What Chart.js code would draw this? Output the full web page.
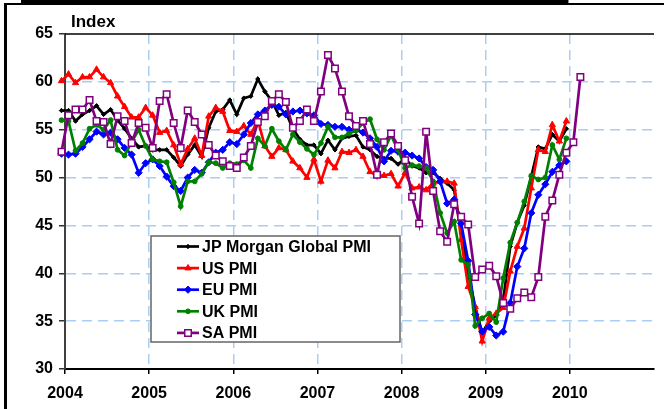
<!DOCTYPE html>
<html>
<head>
<meta charset="utf-8">
<script src="https://cdn.jsdelivr.net/npm/chart.js@4.4.1/dist/chart.umd.min.js"></script>
<style>
  html, body { margin: 0; padding: 0; background: #fff; overflow: hidden; }
  #wrap { position: relative; width: 664px; height: 409px; overflow: hidden; }
  #frame { position: absolute; left: 4px; top: 3px; width: 700px; height: 420px;
           border-left: 3px solid #000; border-top: 2px solid #000; }
  #title { position: absolute; left: 21px; top: -17px; white-space: nowrap; background: #fff;
           font: bold 18px "Liberation Sans", Arial, sans-serif; line-height: 20px; letter-spacing: 0.8px;
           text-decoration: underline; text-decoration-thickness: 3px; text-underline-offset: 1px;
           text-decoration-skip-ink: none; }
  canvas { position: absolute; left: 0; top: 0; }
</style>
</head>
<body>
<div id="wrap">
  <div id="frame"></div>
  <div id="title">Figure 1: Manufacturing PMIs &#8211; global and regional (index)</div>
  <canvas id="graf" width="664" height="409"></canvas>
</div>
<script>
// monthly readings, first value is Dec 2003
const jpMorgan = [57.0, 57.0, 55.9, 56.6, 57.0, 57.5, 56.6, 57.1, 56.0, 55.1, 54.1, 53.2, 53.3,
  52.9, 52.9, 52.9, 52.1, 51.2, 52.4, 53.4, 52.2, 55.2, 56.9, 57.1, 58.1,
  56.6, 58.3, 58.5, 60.3, 59.0, 58.0, 56.5, 56.8, 55.1, 54.0, 53.4, 53.4,
  52.5, 53.9, 52.9, 54.1, 54.3, 54.4, 53.2, 52.9, 52.2, 52.0, 52.0, 51.4,
  52.0, 51.2, 51.0, 50.5, 50.5, 49.9, 49.4, 48.7, 44.2, 40.0, 36.5, 33.8,
  35.0, 35.6, 37.2, 42.8, 45.3, 47.1, 50.1, 53.2, 53.0, 54.5, 53.8, 55.1]

const usPmi = [60.1, 60.8, 59.9, 60.5, 60.5, 61.3, 60.5, 59.9, 58.5, 57.4, 56.3, 56.3, 57.3,
  56.5, 54.7, 54.9, 53.4, 51.4, 53.0, 54.1, 52.3, 56.4, 57.3, 56.9, 54.9,
  54.8, 55.4, 54.5, 56.0, 53.3, 52.2, 53.1, 52.9, 51.7, 51.0, 50.0, 51.9,
  49.6, 51.8, 51.0, 52.7, 52.6, 52.9, 52.2, 50.6, 50.2, 50.2, 50.4, 49.1,
  50.5, 48.9, 49.0, 48.7, 49.4, 49.6, 49.6, 49.4, 43.5, 38.6, 36.5, 32.9,
  35.3, 35.8, 36.4, 40.2, 42.8, 44.7, 48.9, 52.9, 52.7, 55.5, 53.8, 55.9]

const euPmi = [52.5, 52.4, 52.5, 53.2, 54.0, 54.8, 54.5, 54.7, 54.0, 53.1, 52.4, 50.5, 51.5,
  51.9, 51.2, 50.1, 49.1, 48.6, 50.0, 50.8, 50.5, 51.6, 52.6, 52.9, 53.7,
  53.5, 54.5, 55.7, 56.6, 57.0, 57.6, 57.4, 56.6, 56.9, 57.0, 56.7, 56.5,
  55.6, 55.5, 55.3, 55.3, 55.0, 55.0, 54.7, 54.1, 53.2, 51.7, 52.8, 52.7,
  52.6, 52.3, 52.0, 51.1, 50.8, 49.6, 47.3, 47.7, 45.2, 41.3, 35.7, 33.9,
  34.4, 33.5, 33.9, 36.9, 40.7, 42.6, 46.3, 48.2, 49.3, 50.6, 51.3, 51.7]

const ukPmi = [56.0, 55.9, 52.8, 53.6, 55.1, 55.5, 55.0, 56.0, 52.9, 52.3, 53.7, 55.0, 53.3,
  51.9, 51.7, 51.6, 49.5, 47.0, 49.6, 49.6, 50.4, 51.6, 51.5, 51.0, 51.5,
  51.4, 51.8, 51.0, 54.1, 53.3, 55.1, 53.8, 52.9, 54.5, 53.7, 53.0, 52.4,
  53.6, 55.3, 54.2, 54.2, 54.6, 54.9, 55.7, 56.1, 54.0, 52.9, 54.4, 52.9,
  51.0, 51.3, 51.2, 51.0, 49.6, 46.3, 44.2, 45.4, 41.4, 40.9, 34.5, 35.3,
  35.8, 34.9, 39.5, 43.2, 45.3, 47.5, 50.2, 49.8, 50.0, 53.4, 51.9, 54.1]

// SA runs two months longer (to Feb 2010)
const saPmi = [52.7, 56.5, 57.1, 57.1, 58.1, 55.9, 55.8, 53.5, 56.4, 55.9, 53.6, 55.7, 55.2,
  53.1, 58.0, 58.7, 55.7, 53.1, 57.0, 55.8, 54.5, 53.4, 52.3, 51.7, 51.2,
  51.0, 52.1, 53.3, 55.8, 56.4, 58.0, 58.7, 57.9, 55.2, 55.9, 57.1, 55.9,
  59.0, 62.8, 61.4, 59.0, 56.4, 55.4, 55.9, 53.5, 50.3, 53.7, 54.6, 53.3,
  51.8, 48.0, 45.2, 54.8, 48.6, 44.4, 43.3, 47.2, 45.9, 45.1, 39.6, 40.4,
  40.8, 39.7, 36.9, 36.3, 37.4, 38.0, 37.5, 39.6, 45.9, 47.6, 50.3, 52.6, 53.7, 60.5]

const firstYear = 2004
const lastMonth = 84          // axis runs to Jan 2011
const yTicks = {min: 30, max: 65, step: 5}

// months counted from Jan 2004, each reading sits mid-month; index 0 is Dec 2003
const toPoints = arr => arr.map((v, i) => ({x: i - 0.5, y: v}))

const gridBlue = '#a9cff5'
const font = '"Liberation Sans", Arial, sans-serif'
Chart.defaults.font.family = font
Chart.defaults.font.size = 16
Chart.defaults.font.weight = 'bold'
Chart.defaults.color = '#000'

// legend box + plot top border + axis caption
const decor = {
  id: 'decor',
  afterDatasetsDraw(chart) {
    const {ctx, chartArea: a} = chart
    ctx.save()
    ctx.strokeStyle = '#000'
    ctx.lineWidth = 1.5
    ctx.beginPath()
    ctx.moveTo(a.left, a.top)
    ctx.lineTo(a.right, a.top)
    ctx.stroke()

    const bx = a.left + 86, by = a.top + 202, bw = 249, bh = 106
    ctx.fillStyle = '#fff'
    ctx.fillRect(bx, by, bw, bh)
    ctx.strokeStyle = '#666'
    ctx.lineWidth = 1.5
    ctx.strokeRect(bx, by, bw, bh)

    chart.data.datasets.forEach((ds, i) => {
      const y = by + 10.5 + i * 21.6
      ctx.strokeStyle = ds.borderColor
      ctx.lineWidth = ds.borderWidth
      ctx.beginPath()
      ctx.moveTo(bx + 26, y)
      ctx.lineTo(bx + 48, y)
      ctx.stroke()
      ctx.fillStyle = ds.pointBackgroundColor || ds.borderColor
      ctx.strokeStyle = ds.borderColor
      ctx.lineWidth = ds.pointBorderWidth
      Chart.helpers.drawPoint(ctx, {pointStyle: ds.pointStyle, radius: ds.pointRadius, rotation: 0, borderWidth: ds.pointBorderWidth}, bx + 37, y)
      ctx.fillStyle = '#000'
      ctx.font = 'bold 16px ' + font
      ctx.textBaseline = 'middle'
      ctx.fillText(ds.label, bx + 51, y + 1)
    })

    ctx.font = 'bold 17px ' + font
    ctx.fillStyle = '#000'
    ctx.textBaseline = 'middle'
    ctx.fillText('Index', 71, 22)
    ctx.restore()
  }
}

const series = (label, arr, color, style, radius, order, extra) => Object.assign({
  label: label,
  data: toPoints(arr),
  borderColor: color,
  backgroundColor: color,
  pointBackgroundColor: color,
  borderWidth: 2.7,
  pointStyle: style,
  pointRadius: radius,
  pointBorderWidth: 1,
  tension: 0,
  clip: false,
  order: order
}, extra || {})

new Chart(document.getElementById('graf'), {
  type: 'line',
  data: {
    datasets: [
      series('JP Morgan Global PMI', jpMorgan, '#000000', 'rectRot', 2.2, 5),
      series('US PMI', usPmi, '#ff0000', 'triangle', 3.6, 4),
      series('EU PMI', euPmi, '#0000ff', 'rectRot', 3.6, 3),
      series('UK PMI', ukPmi, '#008000', 'circle', 2.4, 2),
      series('SA PMI', saPmi, '#800080', 'rect', 4.6, 1, {pointBackgroundColor: '#ffffff', pointBorderWidth: 1.5})
    ]
  },
  options: {
    responsive: false,
    animation: false,
    layout: {padding: {top: 34, right: 0, bottom: 0, left: 0}},
    plugins: {legend: {display: false}, tooltip: {enabled: false}},
    scales: {
      x: {
        type: 'linear',
        min: 0,
        max: lastMonth,
        afterFit: s => { s.height = 40 },
        border: {color: '#000', width: 2, dash: [10, 6]},
        grid: {
          color: c => (c.tick.value > 0 && c.tick.value < lastMonth) ? gridBlue : 'rgba(0,0,0,0)',
          lineWidth: 1.5,
          tickLength: 5,
          tickWidth: 1.5,
          tickColor: c => c.tick.value < lastMonth ? '#000' : 'rgba(0,0,0,0)'
        },
        ticks: {
          stepSize: 12,
          autoSkip: false,
          maxRotation: 0,
          padding: 10,
          callback: v => v < lastMonth ? String(firstYear + v / 12) : ''
        }
      },
      y: {
        min: yTicks.min,
        max: yTicks.max,
        afterFit: s => { s.width = 65 },
        border: {color: '#404040', width: 2, dash: [10, 6]},
        grid: {
          color: c => (c.tick.value > yTicks.min && c.tick.value < yTicks.max) ? gridBlue : 'rgba(0,0,0,0)',
          lineWidth: 1.5,
          tickLength: 6,
          tickWidth: 1.5,
          tickColor: '#333'
        },
        ticks: {stepSize: yTicks.step, padding: 6}
      }
    }
  },
  plugins: [decor]
})
</script>
</body>
</html>
